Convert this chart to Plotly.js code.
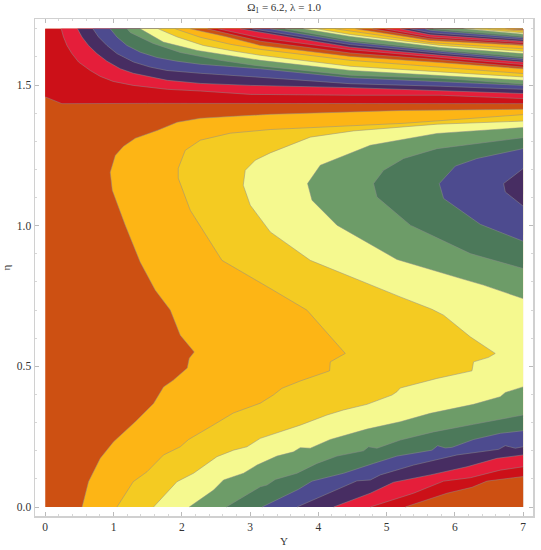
<!DOCTYPE html>
<html><head><meta charset="utf-8">
<script src="https://cdn.plot.ly/plotly-3.0.1.min.js"></script>
<style>html,body{margin:0;padding:0;background:#fff}#c{width:541px;height:550px}</style>
</head><body><div id="c"></div>
<script>
const bandColors = ['#CD5012','#FDB515','#F4CB22','#F5F98F','#6D9C68','#4C795A','#4D4B8F','#472D62','#E51E3A','#CC1018'];
const xMax = 7, yMax = 1.7;

// contour lines wrapping the right side (z rising from the brown region)
const l1x=[0.54,0.634,0.806,1.001,1.319,1.587,1.733,1.875,2.081,2.110,2.183,1.978,1.832,1.612,1.392,1.172,0.982,0.952,1.026,1.143,1.319,1.641,1.934,2.271,2.755,3.297,5.245,7];
const l1y=[0,0.090,0.173,0.232,0.303,0.368,0.427,0.451,0.494,0.529,0.551,0.611,0.700,0.771,0.870,1.002,1.126,1.190,1.250,1.282,1.311,1.339,1.368,1.382,1.389,1.396,1.410,1.414];
const l2x=[1.051,1.289,1.490,1.733,1.978,2.100,2.418,2.755,3.150,3.341,3.468,3.736,4.166,4.176,4.396,3.834,3.297,2.589,2.125,1.949,1.949,2.051,2.271,2.711,3.297,5.245,7];
const l2y=[0,0.090,0.125,0.185,0.214,0.240,0.285,0.334,0.369,0.398,0.422,0.448,0.484,0.516,0.546,0.700,0.777,0.877,1.055,1.169,1.204,1.268,1.304,1.329,1.342,1.364,1.395];
const l3x=[1.587,1.733,1.930,2.173,2.516,2.759,2.955,3.150,3.736,4.128,4.371,4.714,5.080,5.153,5.201,5.739,6.252,6.275,6.495,6.593,6.227,5.836,5.666,5.201,4.664,3.883,3.297,3.004,2.901,2.930,3.077,3.297,3.883,4.513,5.744,7];
const l3y=[0,0.037,0.090,0.120,0.179,0.202,0.214,0.244,0.291,0.327,0.345,0.365,0.398,0.410,0.423,0.457,0.484,0.516,0.532,0.546,0.605,0.682,0.703,0.747,0.800,0.877,0.978,1.073,1.144,1.197,1.233,1.259,1.315,1.337,1.361,1.372];

// closed lobes against the right edge
const lobe4x=[7,6.422,6.081,5.300,5.153,4.274,3.908,3.843,4.029,4.762,5.739,7];
const lobe4y=[0.741,0.789,0.813,0.868,0.880,1.002,1.091,1.150,1.215,1.286,1.328,1.349];
const lobe5x=[7,6.227,5.348,4.860,4.810,4.957,5.250,5.739,7];
const lobe5y=[0.848,0.901,1.002,1.102,1.150,1.197,1.239,1.274,1.313];
const lobe6x=[7,6.374,5.836,5.773,6.007,6.325,7];
const lobe6y=[0.945,1.005,1.097,1.150,1.212,1.239,1.274];
const lobe7x=[7,6.740,6.715,7];
const lobe7y=[1.070,1.120,1.150,1.203];

// contour lines of the lower right corner
const low4x=[2.110,2.466,2.612,2.905,3.102,3.395,3.638,3.736,3.883,4.176,4.714,5.201,5.641,6.275,6.667,6.740,7];
const low4y=[0,0.060,0.096,0.120,0.149,0.181,0.196,0.211,0.209,0.240,0.277,0.303,0.333,0.365,0.392,0.407,0.427];
const low5x=[2.652,3.150,3.248,3.370,3.688,3.981,4.274,4.664,4.737,4.860,5.201,5.689,6.275,7];
const low5y=[0,0.072,0.078,0.098,0.120,0.155,0.181,0.200,0.214,0.209,0.238,0.267,0.294,0.327];
const low6x=[3.175,3.711,3.908,4.371,4.810,5.153,5.666,5.748,5.861,5.959,6.275,6.667,7];
const low6y=[0,0.063,0.092,0.120,0.155,0.181,0.202,0.218,0.210,0.212,0.240,0.262,0.271];
const low7x=[3.688,4.371,4.567,4.762,4.908,5.396,6.032,6.642,6.740,6.886,7];
const low7y=[0,0.072,0.093,0.096,0.114,0.149,0.185,0.205,0.218,0.209,0.214];
const low8x=[4.224,4.762,5.103,5.641,6.179,6.618,7];
const low8y=[0,0.049,0.088,0.114,0.143,0.173,0.185];
const low9x=[4.762,5.396,5.836,6.227,6.667,7];
const low9y=[0,0.049,0.092,0.104,0.131,0.143];
const low10x=[5.275,5.886,6.252,6.472,6.861,7];
const low10y=[0,0.049,0.070,0.092,0.104,0.108];

// contour lines of the top fan, in order going upward
const u0x=[0,0.244,1.5,3.3,5.2,7];
const u0y=[1.458,1.434,1.435,1.434,1.434,1.434];
const u1x=[0.234,0.268,0.318,0.391,0.488,0.659,0.806,0.996,1.289,1.788,2.271,3.004,4.469,5.788,7];
const u1y=[1.70,1.671,1.641,1.612,1.582,1.552,1.531,1.513,1.499,1.485,1.479,1.467,1.464,1.464,1.452];
const u2x=[0.473,0.538,0.634,0.757,0.904,1.099,1.289,1.788,2.271,3.004,4.469,5.788,7];
const u2y=[1.70,1.671,1.641,1.612,1.585,1.558,1.542,1.517,1.506,1.499,1.491,1.479,1.470];
const u3x=[0.699,0.781,0.904,1.051,1.294,1.538,1.783,2.271,3.077,4.469,5.788,7];
const u3y=[1.70,1.671,1.641,1.612,1.582,1.564,1.552,1.542,1.529,1.505,1.496,1.485];
const u4x=[0.952,1.051,1.197,1.392,1.637,1.930,2.271,3.150,4.469,5.788,7];
const u4y=[1.70,1.671,1.641,1.617,1.598,1.585,1.574,1.558,1.526,1.511,1.499];
const u5x=[1.201,1.245,1.582,1.978,2.564,3.077,4.469,5.788,7];
const u5y=[1.70,1.687,1.648,1.616,1.588,1.570,1.535,1.524,1.504];
const u6x=[1.392,1.729,2.227,2.711,3.150,4.469,5.788,7];
const u6y=[1.70,1.653,1.623,1.606,1.588,1.552,1.535,1.517];
const u7x=[1.656,1.934,2.315,2.711,3.150,4.469,5.788,7];
const u7y=[1.70,1.671,1.641,1.623,1.606,1.567,1.547,1.529];
const u8x=[1.905,2.271,2.711,3.150,4.469,5.788,7];
const u8y=[1.70,1.670,1.645,1.627,1.588,1.564,1.541];
const u9x=[2.125,2.637,3.150,4.469,5.788,7];
const u9y=[1.70,1.673,1.641,1.602,1.580,1.558];
const u10x=[2.374,3.150,4.469,5.788,7];
const u10y=[1.70,1.656,1.614,1.590,1.564];
const u11x=[2.535,3.150,4.469,5.788,7];
const u11y=[1.70,1.668,1.626,1.599,1.573];
const u12x=[2.857,3.150,4.469,5.788,7];
const u12y=[1.70,1.688,1.635,1.606,1.582];
const u13x=[3.033,4.469,5.788,7];
const u13y=[1.70,1.644,1.613,1.588];
const u14x=[3.297,4.469,5.788,7];
const u14y=[1.70,1.653,1.620,1.594];
const u15x=[3.516,4.469,5.788,7];
const u15y=[1.70,1.659,1.625,1.600];
const u16x=[3.780,4.469,5.788,7];
const u16y=[1.70,1.673,1.634,1.612];
const u17x=[3.985,4.469,5.788,7];
const u17y=[1.70,1.680,1.641,1.620];
const u18x=[4.249,5.641,7];
const u18y=[1.70,1.651,1.629];
const u19x=[4.542,5.641,7];
const u19y=[1.70,1.659,1.641];
const u20x=[4.791,5.641,7];
const u20y=[1.70,1.665,1.645];
const u21x=[4.982,5.641,7];
const u21y=[1.70,1.671,1.651];
const u22x=[5.201,5.641,7];
const u22y=[1.70,1.679,1.656];
const u23x=[5.348,5.641,7];
const u23y=[1.70,1.686,1.662];
const u24x=[5.568,5.641,7];
const u24y=[1.70,1.695,1.668];
const u25x=[5.685,7];
const u25y=[1.70,1.673];
const u26x=[6.125,7];
const u26y=[1.70,1.681];
const u27x=[6.256,7];
const u27y=[1.70,1.686];
const u28x=[6.491,7];
const u28y=[1.70,1.692];
const u29x=[6.740,7];
const u29y=[1.70,1.696];
const u30x=[6.886,7];
const u30y=[1.70,1.699];

const traces = [];
const lineColor = 'rgba(140,140,140,0.7)';
function region(px, py, color){
  traces.push({type:'scatter',mode:'lines',x:px,y:py,fill:'toself',fillcolor:color,line:{width:0,color:color},hoverinfo:'skip',showlegend:false});
}
function stroke(cx, cy){
  traces.push({type:'scatter',mode:'lines',x:cx,y:cy,line:{width:0.7,color:lineColor},hoverinfo:'skip',showlegend:false});
}
function addBand(cx, cy, color, extraX, extraY){
  region(cx.concat(extraX), cy.concat(extraY), color);
  stroke(cx, cy);
}
region([0,xMax,xMax,0],[0,0,yMax,yMax],bandColors[0]);
[[l1x,l1y,1],[l2x,l2y,2],[l3x,l3y,3]].forEach(c=>addBand(c[0],c[1],bandColors[c[2]],[xMax],[0]));
[[lobe4x,lobe4y,4],[lobe5x,lobe5y,5],[lobe6x,lobe6y,6],[lobe7x,lobe7y,7]].forEach(c=>addBand(c[0],c[1],bandColors[c[2]],[],[]));
[[low4x,low4y,4],[low5x,low5y,5],[low6x,low6y,6],[low7x,low7y,7],[low8x,low8y,8],[low9x,low9y,9],[low10x,low10y,0]].forEach(c=>addBand(c[0],c[1],bandColors[c[2]],[xMax],[0]));
const upper=[[u0x,u0y],[u1x,u1y],[u2x,u2y],[u3x,u3y],[u4x,u4y],[u5x,u5y],[u6x,u6y],[u7x,u7y],[u8x,u8y],[u9x,u9y],[u10x,u10y],[u11x,u11y],[u12x,u12y],[u13x,u13y],[u14x,u14y],[u15x,u15y],[u16x,u16y],[u17x,u17y],[u18x,u18y],[u19x,u19y],[u20x,u20y],[u21x,u21y],[u22x,u22y],[u23x,u23y],[u24x,u24y],[u25x,u25y],[u26x,u26y],[u27x,u27y],[u28x,u28y],[u29x,u29y],[u30x,u30y]];
upper.forEach((c,i)=>{
  const color = bandColors[((9 - i) % 10 + 10) % 10];
  addBand(c[0],c[1],color,[xMax,c[0][0]],[yMax,yMax]);
});

const serif = 'Liberation Serif, Times New Roman, serif';
const axisBase = {showgrid:false,zeroline:false,showline:true,linecolor:'#d0d0d0',linewidth:1.5,mirror:'allticks',ticks:'inside',ticklen:4,tickwidth:0.8,tickcolor:'#aaa',tickfont:{family:serif,size:11.5,color:'#333'}};
const layout = {
  width:541,height:550,autosize:false,paper_bgcolor:'#fff',plot_bgcolor:'#fff',showlegend:false,
  margin:{l:35,r:8,t:19,b:34,pad:0},
  title:{text:'Ω<sub>1</sub> = 6.2, λ = 1.0',x:0.525,xanchor:'center',y:0.987,yanchor:'middle',font:{family:serif,size:11,color:'#333'}},
  xaxis:Object.assign({},axisBase,{range:[-0.15,7.146],tick0:0,dtick:1,tickformat:'d',minor:{dtick:0.2,ticks:'inside',ticklen:2,tickwidth:0.6,tickcolor:'#bbb',showgrid:false},title:{text:'Y',standoff:5,font:{family:serif,size:11,color:'#333'}}}),
  yaxis:Object.assign({},axisBase,{range:[-0.032,1.735],tick0:0,dtick:0.5,tickformat:'.1f',minor:{dtick:0.1,ticks:'inside',ticklen:2,tickwidth:0.6,tickcolor:'#bbb',showgrid:false},title:{text:'η',standoff:4,font:{family:serif,size:11,color:'#333'}}})
};
Plotly.newPlot('c',traces,layout,{displayModeBar:false,staticPlot:true});
</script></body></html>
